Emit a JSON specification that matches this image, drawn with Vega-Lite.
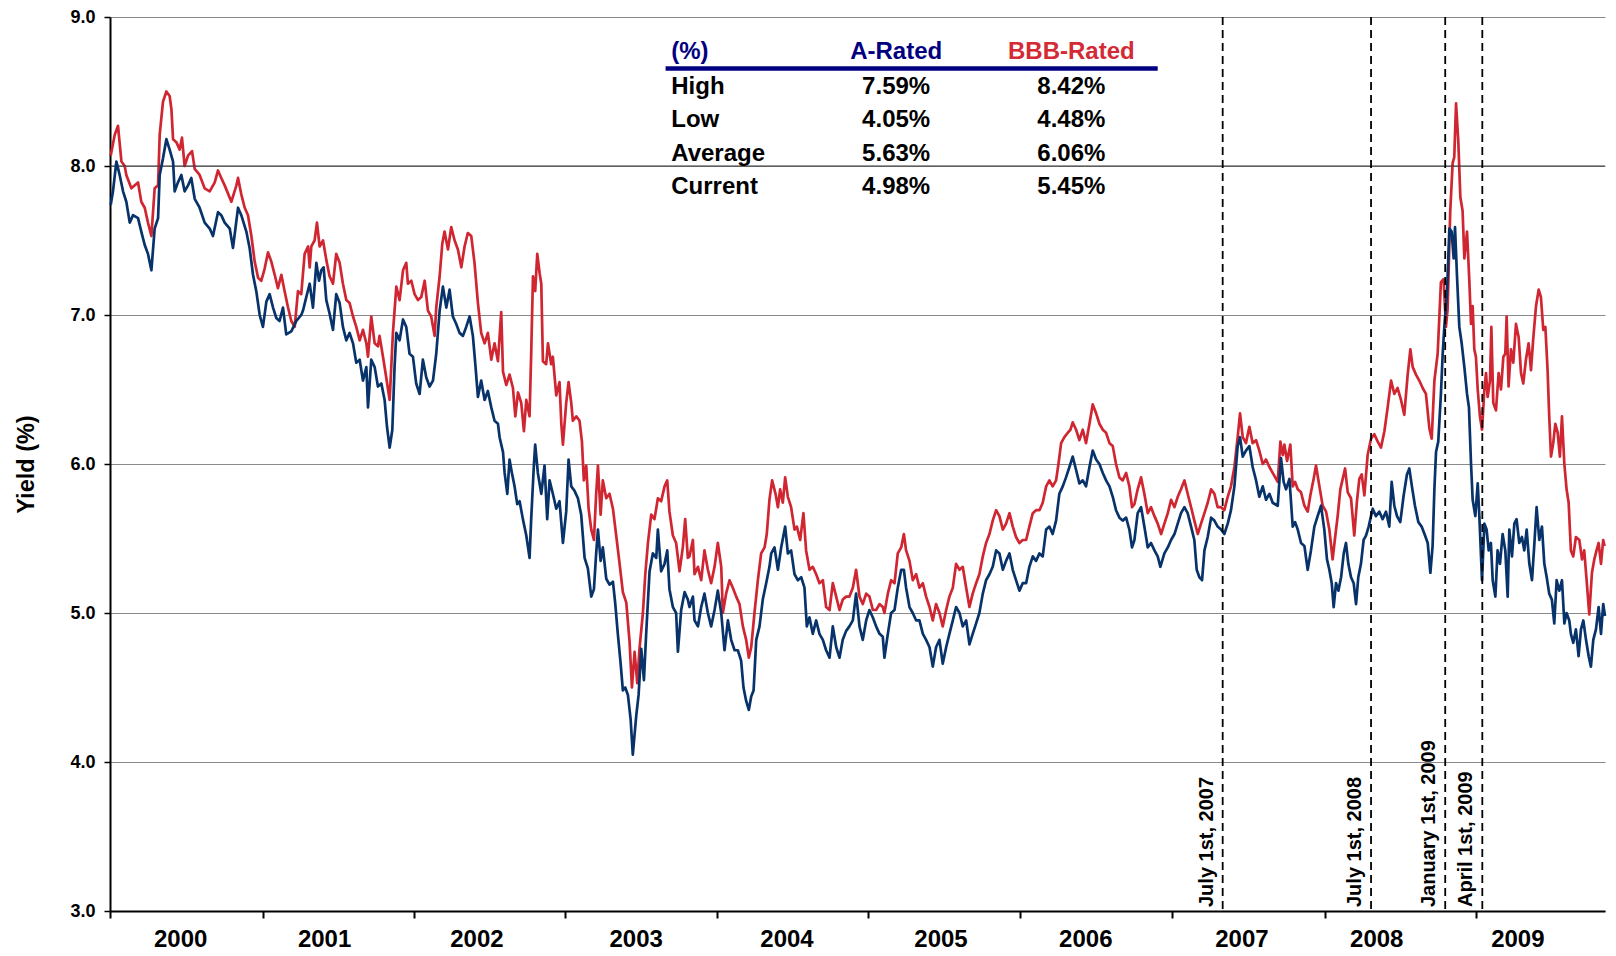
{
  "$schema": "https://vega.github.io/schema/vega-lite/v6.json",
  "width": 1495,
  "height": 894,
  "autosize": {"type": "none"},
  "padding": {"left": 110, "top": 17, "right": 11, "bottom": 45},
  "background": "white",
  "config": {"view": {"stroke": null}, "font": "Liberation Sans"},
  "datasets": {
    "bbb": [
{"year":2000.005,"yield":8.07},{"year":2000.032,"yield":8.21},{"year":2000.054,"yield":8.27},{"year":2000.077,"yield":8.03},{"year":2000.099,"yield":8.00},{"year":2000.110,"yield":7.94},{"year":2000.144,"yield":7.85},{"year":2000.189,"yield":7.89},{"year":2000.211,"yield":7.76},{"year":2000.234,"yield":7.72},{"year":2000.256,"yield":7.62},{"year":2000.279,"yield":7.53},{"year":2000.301,"yield":7.85},{"year":2000.324,"yield":7.87},{"year":2000.335,"yield":8.21},{"year":2000.357,"yield":8.43},{"year":2000.380,"yield":8.50},{"year":2000.402,"yield":8.47},{"year":2000.414,"yield":8.38},{"year":2000.425,"yield":8.18},{"year":2000.447,"yield":8.16},{"year":2000.470,"yield":8.11},{"year":2000.485,"yield":8.19},{"year":2000.503,"yield":8.00},{"year":2000.526,"yield":8.07},{"year":2000.553,"yield":8.10},{"year":2000.571,"yield":7.98},{"year":2000.604,"yield":7.94},{"year":2000.638,"yield":7.85},{"year":2000.672,"yield":7.83},{"year":2000.706,"yield":7.89},{"year":2000.728,"yield":7.97},{"year":2000.750,"yield":7.92},{"year":2000.773,"yield":7.87},{"year":2000.818,"yield":7.76},{"year":2000.852,"yield":7.87},{"year":2000.863,"yield":7.92},{"year":2000.885,"yield":7.81},{"year":2000.908,"yield":7.72},{"year":2000.930,"yield":7.67},{"year":2000.953,"yield":7.53},{"year":2000.975,"yield":7.36},{"year":2000.998,"yield":7.25},{"year":2001.020,"yield":7.23},{"year":2001.042,"yield":7.31},{"year":2001.065,"yield":7.42},{"year":2001.087,"yield":7.36},{"year":2001.110,"yield":7.27},{"year":2001.132,"yield":7.18},{"year":2001.155,"yield":7.27},{"year":2001.177,"yield":7.16},{"year":2001.200,"yield":7.05},{"year":2001.222,"yield":6.96},{"year":2001.245,"yield":6.92},{"year":2001.267,"yield":7.16},{"year":2001.289,"yield":7.14},
{"year":2001.312,"yield":7.41},{"year":2001.335,"yield":7.46},{"year":2001.346,"yield":7.32},{"year":2001.357,"yield":7.46},{"year":2001.379,"yield":7.50},{"year":2001.395,"yield":7.62},{"year":2001.413,"yield":7.46},{"year":2001.436,"yield":7.50},{"year":2001.458,"yield":7.37},{"year":2001.480,"yield":7.26},{"year":2001.503,"yield":7.21},{"year":2001.525,"yield":7.41},{"year":2001.548,"yield":7.35},{"year":2001.570,"yield":7.21},{"year":2001.593,"yield":7.10},{"year":2001.615,"yield":7.08},{"year":2001.638,"yield":6.99},{"year":2001.660,"yield":6.92},{"year":2001.683,"yield":6.83},{"year":2001.705,"yield":6.90},{"year":2001.728,"yield":6.81},{"year":2001.739,"yield":6.72},{"year":2001.761,"yield":6.99},{"year":2001.784,"yield":6.81},{"year":2001.806,"yield":6.79},{"year":2001.817,"yield":6.86},{"year":2001.840,"yield":6.72},{"year":2001.862,"yield":6.58},{"year":2001.885,"yield":6.43},{"year":2001.907,"yield":6.88},{"year":2001.930,"yield":7.19},{"year":2001.952,"yield":7.10},{"year":2001.975,"yield":7.30},{"year":2001.997,"yield":7.35},{"year":2002.008,"yield":7.21},{"year":2002.031,"yield":7.23},{"year":2002.053,"yield":7.14},{"year":2002.076,"yield":7.10},{"year":2002.098,"yield":7.12},{"year":2002.121,"yield":7.23},{"year":2002.143,"yield":7.03},{"year":2002.165,"yield":6.99},{"year":2002.188,"yield":6.86},{"year":2002.199,"yield":7.05},{"year":2002.222,"yield":7.26},{"year":2002.240,"yield":7.48},{"year":2002.255,"yield":7.56},{"year":2002.278,"yield":7.44},{"year":2002.300,"yield":7.59},{"year":2002.323,"yield":7.50},{"year":2002.345,"yield":7.44},{"year":2002.368,"yield":7.32},{"year":2002.390,"yield":7.46},{"year":2002.412,"yield":7.55},{"year":2002.435,"yield":7.53},{"year":2002.457,"yield":7.35},{"year":2002.480,"yield":7.08},{"year":2002.502,"yield":6.88},{"year":2002.525,"yield":6.81},{"year":2002.547,"yield":6.88},{"year":2002.570,"yield":6.70},{"year":2002.592,"yield":6.81},
{"year":2002.615,"yield":6.69},{"year":2002.637,"yield":7.02},{"year":2002.649,"yield":6.62},{"year":2002.671,"yield":6.53},{"year":2002.693,"yield":6.60},{"year":2002.716,"yield":6.51},{"year":2002.732,"yield":6.32},{"year":2002.750,"yield":6.48},{"year":2002.772,"yield":6.41},{"year":2002.790,"yield":6.22},{"year":2002.806,"yield":6.43},{"year":2002.828,"yield":6.32},{"year":2002.839,"yield":6.74},{"year":2002.851,"yield":7.26},{"year":2002.866,"yield":7.16},{"year":2002.880,"yield":7.41},{"year":2002.896,"yield":7.28},{"year":2002.907,"yield":7.21},{"year":2002.918,"yield":6.69},{"year":2002.940,"yield":6.67},{"year":2002.952,"yield":6.81},{"year":2002.974,"yield":6.67},{"year":2002.985,"yield":6.72},{"year":2003.008,"yield":6.46},{"year":2003.030,"yield":6.55},{"year":2003.042,"yield":6.27},{"year":2003.053,"yield":6.13},{"year":2003.075,"yield":6.41},{"year":2003.091,"yield":6.55},{"year":2003.109,"yield":6.41},{"year":2003.120,"yield":6.29},{"year":2003.143,"yield":6.32},{"year":2003.165,"yield":6.29},{"year":2003.181,"yield":6.15},{"year":2003.194,"yield":5.89},{"year":2003.210,"yield":5.99},{"year":2003.226,"yield":5.70},{"year":2003.244,"yield":5.56},{"year":2003.262,"yield":5.49},{"year":2003.277,"yield":5.80},{"year":2003.289,"yield":5.99},{"year":2003.307,"yield":5.66},{"year":2003.322,"yield":5.89},{"year":2003.345,"yield":5.77},{"year":2003.367,"yield":5.80},{"year":2003.390,"yield":5.70},{"year":2003.412,"yield":5.52},{"year":2003.435,"yield":5.33},{"year":2003.457,"yield":5.14},{"year":2003.480,"yield":5.07},{"year":2003.502,"yield":4.81},{"year":2003.518,"yield":4.50},{"year":2003.536,"yield":4.74},{"year":2003.554,"yield":4.53},{"year":2003.569,"yield":4.76},{"year":2003.592,"yield":5.00},{"year":2003.608,"yield":5.26},{"year":2003.626,"yield":5.47},{"year":2003.648,"yield":5.66},{"year":2003.670,"yield":5.63},{"year":2003.693,"yield":5.77},{"year":2003.715,"yield":5.75},{"year":2003.738,"yield":5.85},{"year":2003.756,"yield":5.89},{"year":2003.771,"yield":5.68},{"year":2003.794,"yield":5.52},{"year":2003.816,"yield":5.47},{"year":2003.839,"yield":5.28},{"year":2003.861,"yield":5.44},{"year":2003.877,"yield":5.63},{"year":2003.895,"yield":5.37},
{"year":2003.906,"yield":5.38},{"year":2003.929,"yield":5.49},{"year":2003.940,"yield":5.26},{"year":2003.963,"yield":5.31},{"year":2003.985,"yield":5.22},{"year":2004.007,"yield":5.42},{"year":2004.030,"yield":5.29},{"year":2004.052,"yield":5.20},{"year":2004.075,"yield":5.31},{"year":2004.097,"yield":5.47},{"year":2004.120,"yield":5.31},{"year":2004.131,"yield":5.00},{"year":2004.153,"yield":5.13},{"year":2004.176,"yield":5.22},{"year":2004.198,"yield":5.17},{"year":2004.221,"yield":5.11},{"year":2004.243,"yield":5.06},{"year":2004.266,"yield":4.91},{"year":2004.288,"yield":4.82},{"year":2004.306,"yield":4.70},{"year":2004.322,"yield":4.77},{"year":2004.344,"yield":5.00},{"year":2004.367,"yield":5.22},{"year":2004.389,"yield":5.40},{"year":2004.412,"yield":5.44},{"year":2004.427,"yield":5.53},{"year":2004.445,"yield":5.76},{"year":2004.463,"yield":5.89},{"year":2004.486,"yield":5.80},{"year":2004.502,"yield":5.71},{"year":2004.517,"yield":5.83},{"year":2004.535,"yield":5.74},{"year":2004.551,"yield":5.91},{"year":2004.569,"yield":5.78},{"year":2004.591,"yield":5.71},{"year":2004.614,"yield":5.56},{"year":2004.630,"yield":5.58},{"year":2004.652,"yield":5.49},{"year":2004.674,"yield":5.67},{"year":2004.692,"yield":5.42},{"year":2004.715,"yield":5.29},{"year":2004.737,"yield":5.31},{"year":2004.760,"yield":5.26},{"year":2004.782,"yield":5.20},{"year":2004.805,"yield":5.22},{"year":2004.827,"yield":5.04},{"year":2004.850,"yield":5.02},{"year":2004.872,"yield":5.20},{"year":2004.895,"yield":5.11},{"year":2004.917,"yield":5.02},{"year":2004.939,"yield":5.09},{"year":2004.962,"yield":5.11},{"year":2004.984,"yield":5.11},{"year":2005.007,"yield":5.17},{"year":2005.029,"yield":5.29},{"year":2005.052,"yield":5.11},{"year":2005.074,"yield":5.06},{"year":2005.097,"yield":5.13},{"year":2005.119,"yield":5.11},{"year":2005.142,"yield":5.02},{"year":2005.164,"yield":5.02},{"year":2005.187,"yield":5.06},{"year":2005.209,"yield":5.04},
{"year":2005.220,"yield":5.00},{"year":2005.243,"yield":5.13},{"year":2005.265,"yield":5.22},{"year":2005.288,"yield":5.20},{"year":2005.310,"yield":5.40},{"year":2005.333,"yield":5.44},{"year":2005.351,"yield":5.53},{"year":2005.366,"yield":5.42},{"year":2005.389,"yield":5.35},{"year":2005.411,"yield":5.22},{"year":2005.434,"yield":5.26},{"year":2005.456,"yield":5.17},{"year":2005.479,"yield":5.20},{"year":2005.501,"yield":5.11},{"year":2005.524,"yield":5.04},{"year":2005.546,"yield":4.95},{"year":2005.568,"yield":5.06},{"year":2005.591,"yield":5.00},{"year":2005.613,"yield":4.91},{"year":2005.636,"yield":5.02},{"year":2005.658,"yield":5.11},{"year":2005.681,"yield":5.17},{"year":2005.703,"yield":5.33},{"year":2005.726,"yield":5.29},{"year":2005.748,"yield":5.31},{"year":2005.771,"yield":5.17},{"year":2005.793,"yield":5.04},{"year":2005.815,"yield":5.13},{"year":2005.838,"yield":5.20},{"year":2005.860,"yield":5.26},{"year":2005.883,"yield":5.38},{"year":2005.905,"yield":5.47},{"year":2005.928,"yield":5.53},{"year":2005.950,"yield":5.62},{"year":2005.973,"yield":5.69},{"year":2005.995,"yield":5.65},{"year":2006.018,"yield":5.56},{"year":2006.040,"yield":5.60},{"year":2006.063,"yield":5.67},{"year":2006.085,"yield":5.58},{"year":2006.107,"yield":5.51},{"year":2006.130,"yield":5.47},{"year":2006.152,"yield":5.49},{"year":2006.175,"yield":5.49},{"year":2006.197,"yield":5.58},{"year":2006.220,"yield":5.67},{"year":2006.242,"yield":5.69},{"year":2006.265,"yield":5.69},{"year":2006.287,"yield":5.74},{"year":2006.310,"yield":5.85},{"year":2006.332,"yield":5.89},{"year":2006.354,"yield":5.85},{"year":2006.377,"yield":5.89},{"year":2006.393,"yield":6.00},{"year":2006.411,"yield":6.14},{"year":2006.433,"yield":6.18},{"year":2006.456,"yield":6.21},{"year":2006.474,"yield":6.23},{"year":2006.489,"yield":6.28},{"year":2006.512,"yield":6.23},{"year":2006.534,"yield":6.16},
{"year":2006.557,"yield":6.23},{"year":2006.579,"yield":6.14},{"year":2006.602,"yield":6.27},{"year":2006.624,"yield":6.40},{"year":2006.647,"yield":6.34},{"year":2006.669,"yield":6.27},{"year":2006.692,"yield":6.23},{"year":2006.714,"yield":6.21},{"year":2006.737,"yield":6.14},{"year":2006.759,"yield":6.12},{"year":2006.781,"yield":6.00},{"year":2006.804,"yield":5.91},{"year":2006.826,"yield":5.89},{"year":2006.849,"yield":5.94},{"year":2006.871,"yield":5.85},{"year":2006.889,"yield":5.71},{"year":2006.905,"yield":5.73},{"year":2006.927,"yield":5.83},{"year":2006.950,"yield":5.91},{"year":2006.972,"yield":5.80},{"year":2006.995,"yield":5.67},{"year":2007.017,"yield":5.71},{"year":2007.040,"yield":5.65},{"year":2007.062,"yield":5.60},{"year":2007.085,"yield":5.53},{"year":2007.107,"yield":5.60},{"year":2007.130,"yield":5.67},{"year":2007.152,"yield":5.76},{"year":2007.175,"yield":5.71},{"year":2007.197,"yield":5.78},{"year":2007.219,"yield":5.83},{"year":2007.242,"yield":5.89},{"year":2007.264,"yield":5.80},{"year":2007.287,"yield":5.71},{"year":2007.309,"yield":5.62},{"year":2007.332,"yield":5.53},{"year":2007.354,"yield":5.60},{"year":2007.377,"yield":5.67},{"year":2007.399,"yield":5.74},{"year":2007.422,"yield":5.83},{"year":2007.444,"yield":5.80},{"year":2007.466,"yield":5.71},{"year":2007.489,"yield":5.71},{"year":2007.511,"yield":5.69},{"year":2007.534,"yield":5.78},{"year":2007.556,"yield":5.85},{"year":2007.579,"yield":5.98},{"year":2007.601,"yield":6.18},{"year":2007.617,"yield":6.34},{"year":2007.635,"yield":6.18},{"year":2007.657,"yield":6.14},{"year":2007.680,"yield":6.25},{"year":2007.702,"yield":6.14},{"year":2007.725,"yield":6.16},{"year":2007.747,"yield":6.09},{"year":2007.770,"yield":6.00},{"year":2007.792,"yield":6.03},{"year":2007.815,"yield":5.98},{"year":2007.837,"yield":5.94},
{"year":2007.871,"yield":5.88},{"year":2007.889,"yield":6.15},{"year":2007.905,"yield":6.06},{"year":2007.916,"yield":6.13},{"year":2007.934,"yield":6.02},{"year":2007.956,"yield":6.13},{"year":2007.972,"yield":5.85},{"year":2007.988,"yield":5.88},{"year":2008.006,"yield":5.83},{"year":2008.028,"yield":5.81},{"year":2008.051,"yield":5.72},{"year":2008.073,"yield":5.68},{"year":2008.091,"yield":5.79},{"year":2008.113,"yield":5.90},{"year":2008.129,"yield":5.99},{"year":2008.152,"yield":5.85},{"year":2008.174,"yield":5.72},{"year":2008.197,"yield":5.68},{"year":2008.219,"yield":5.56},{"year":2008.241,"yield":5.36},{"year":2008.257,"yield":5.50},{"year":2008.275,"yield":5.65},{"year":2008.293,"yield":5.83},{"year":2008.309,"yield":5.90},{"year":2008.325,"yield":5.97},{"year":2008.343,"yield":5.81},{"year":2008.365,"yield":5.77},{"year":2008.387,"yield":5.52},{"year":2008.405,"yield":5.75},{"year":2008.421,"yield":5.90},{"year":2008.437,"yield":5.93},{"year":2008.455,"yield":5.79},{"year":2008.477,"yield":6.06},{"year":2008.500,"yield":6.17},{"year":2008.522,"yield":6.20},{"year":2008.545,"yield":6.15},{"year":2008.567,"yield":6.11},{"year":2008.590,"yield":6.22},{"year":2008.612,"yield":6.38},{"year":2008.635,"yield":6.56},{"year":2008.657,"yield":6.47},{"year":2008.679,"yield":6.51},{"year":2008.702,"yield":6.43},{"year":2008.724,"yield":6.33},{"year":2008.747,"yield":6.60},{"year":2008.765,"yield":6.77},{"year":2008.781,"yield":6.65},{"year":2008.803,"yield":6.60},{"year":2008.825,"yield":6.56},{"year":2008.848,"yield":6.51},{"year":2008.870,"yield":6.47},{"year":2008.893,"yield":6.24},{"year":2008.909,"yield":6.17},{"year":2008.927,"yield":6.56},{"year":2008.949,"yield":6.74},{"year":2008.971,"yield":7.22},{"year":2008.989,"yield":7.24},{"year":2009.005,"yield":6.92},{"year":2009.016,"yield":7.04},{"year":2009.034,"yield":7.70},{"year":2009.050,"yield":8.02},{"year":2009.061,"yield":8.06},{"year":2009.073,"yield":8.42},{"year":2009.088,"yield":8.17},{"year":2009.102,"yield":7.79},{"year":2009.117,"yield":7.70},{"year":2009.129,"yield":7.38},{"year":2009.147,"yield":7.56},{"year":2009.162,"yield":7.24},
{"year":2009.174,"yield":6.94},{"year":2009.185,"yield":7.06},{"year":2009.196,"yield":6.77},{"year":2009.207,"yield":6.72},{"year":2009.219,"yield":6.50},{"year":2009.234,"yield":6.32},{"year":2009.248,"yield":6.23},{"year":2009.264,"yield":6.50},{"year":2009.275,"yield":6.61},{"year":2009.286,"yield":6.45},{"year":2009.302,"yield":6.56},{"year":2009.311,"yield":6.92},{"year":2009.324,"yield":6.41},{"year":2009.342,"yield":6.36},{"year":2009.360,"yield":6.61},{"year":2009.376,"yield":6.50},{"year":2009.392,"yield":6.72},{"year":2009.405,"yield":6.74},{"year":2009.414,"yield":6.99},{"year":2009.427,"yield":6.52},{"year":2009.443,"yield":6.77},{"year":2009.459,"yield":6.68},{"year":2009.477,"yield":6.94},{"year":2009.495,"yield":6.85},{"year":2009.511,"yield":6.61},{"year":2009.526,"yield":6.54},{"year":2009.544,"yield":6.70},{"year":2009.562,"yield":6.81},{"year":2009.578,"yield":6.63},{"year":2009.594,"yield":6.85},{"year":2009.612,"yield":7.06},{"year":2009.630,"yield":7.17},{"year":2009.645,"yield":7.12},{"year":2009.661,"yield":6.90},{"year":2009.675,"yield":6.92},{"year":2009.690,"yield":6.63},{"year":2009.701,"yield":6.32},{"year":2009.713,"yield":6.05},{"year":2009.728,"yield":6.14},{"year":2009.742,"yield":6.27},{"year":2009.758,"yield":6.21},{"year":2009.773,"yield":6.05},{"year":2009.787,"yield":6.32},{"year":2009.803,"yield":6.00},{"year":2009.818,"yield":5.83},{"year":2009.832,"yield":5.74},{"year":2009.847,"yield":5.42},{"year":2009.863,"yield":5.38},{"year":2009.881,"yield":5.51},{"year":2009.904,"yield":5.49},{"year":2009.922,"yield":5.36},{"year":2009.937,"yield":5.42},{"year":2009.953,"yield":5.22},{"year":2009.971,"yield":4.99},{"year":2009.989,"yield":5.27},{"year":2010.005,"yield":5.36},{"year":2010.020,"yield":5.42},{"year":2010.034,"yield":5.47},{"year":2010.050,"yield":5.33},{"year":2010.065,"yield":5.49},{"year":2010.074,"yield":5.45}
    ],
    "a": [
{"year":2000.005,"yield":7.74},{"year":2000.020,"yield":7.83},{"year":2000.043,"yield":8.03},{"year":2000.065,"yield":7.94},{"year":2000.088,"yield":7.83},{"year":2000.110,"yield":7.76},{"year":2000.133,"yield":7.62},{"year":2000.155,"yield":7.67},{"year":2000.189,"yield":7.65},{"year":2000.211,"yield":7.56},{"year":2000.234,"yield":7.47},{"year":2000.256,"yield":7.41},{"year":2000.279,"yield":7.30},{"year":2000.301,"yield":7.58},{"year":2000.324,"yield":7.65},{"year":2000.335,"yield":7.94},{"year":2000.357,"yield":8.05},{"year":2000.380,"yield":8.18},{"year":2000.402,"yield":8.11},{"year":2000.425,"yield":8.03},{"year":2000.436,"yield":7.83},{"year":2000.458,"yield":7.89},{"year":2000.481,"yield":7.94},{"year":2000.503,"yield":7.83},{"year":2000.526,"yield":7.87},{"year":2000.548,"yield":7.92},{"year":2000.571,"yield":7.78},{"year":2000.604,"yield":7.72},{"year":2000.638,"yield":7.62},{"year":2000.672,"yield":7.58},{"year":2000.694,"yield":7.53},{"year":2000.728,"yield":7.69},{"year":2000.750,"yield":7.67},{"year":2000.773,"yield":7.62},{"year":2000.807,"yield":7.58},{"year":2000.829,"yield":7.45},{"year":2000.863,"yield":7.72},{"year":2000.885,"yield":7.67},{"year":2000.919,"yield":7.56},{"year":2000.941,"yield":7.45},{"year":2000.964,"yield":7.27},{"year":2000.986,"yield":7.16},{"year":2001.009,"yield":7.00},{"year":2001.031,"yield":6.92},{"year":2001.054,"yield":7.09},{"year":2001.076,"yield":7.14},{"year":2001.099,"yield":7.05},{"year":2001.121,"yield":6.98},{"year":2001.143,"yield":6.96},{"year":2001.166,"yield":7.05},{"year":2001.188,"yield":6.87},{"year":2001.222,"yield":6.89},{"year":2001.256,"yield":6.96},{"year":2001.289,"yield":7.00},
{"year":2001.301,"yield":7.03},{"year":2001.323,"yield":7.12},{"year":2001.346,"yield":7.21},{"year":2001.368,"yield":7.05},{"year":2001.391,"yield":7.35},{"year":2001.409,"yield":7.23},{"year":2001.424,"yield":7.30},{"year":2001.440,"yield":7.32},{"year":2001.458,"yield":7.10},{"year":2001.480,"yield":7.01},{"year":2001.503,"yield":6.90},{"year":2001.525,"yield":7.14},{"year":2001.548,"yield":7.08},{"year":2001.570,"yield":6.92},{"year":2001.593,"yield":6.83},{"year":2001.615,"yield":6.88},{"year":2001.638,"yield":6.81},{"year":2001.660,"yield":6.68},{"year":2001.683,"yield":6.70},{"year":2001.705,"yield":6.56},{"year":2001.728,"yield":6.65},{"year":2001.739,"yield":6.38},{"year":2001.761,"yield":6.70},{"year":2001.784,"yield":6.65},{"year":2001.806,"yield":6.52},{"year":2001.829,"yield":6.54},{"year":2001.851,"yield":6.43},{"year":2001.867,"yield":6.25},{"year":2001.885,"yield":6.11},{"year":2001.903,"yield":6.23},{"year":2001.918,"yield":6.65},{"year":2001.930,"yield":6.88},{"year":2001.952,"yield":6.83},{"year":2001.975,"yield":6.97},{"year":2001.997,"yield":6.92},{"year":2002.019,"yield":6.74},{"year":2002.042,"yield":6.72},{"year":2002.064,"yield":6.54},{"year":2002.087,"yield":6.47},{"year":2002.109,"yield":6.70},{"year":2002.132,"yield":6.58},{"year":2002.154,"yield":6.52},{"year":2002.177,"yield":6.56},{"year":2002.199,"yield":6.74},{"year":2002.222,"yield":7.03},{"year":2002.244,"yield":7.19},{"year":2002.267,"yield":7.05},{"year":2002.289,"yield":7.17},{"year":2002.311,"yield":6.99},{"year":2002.334,"yield":6.94},{"year":2002.356,"yield":6.88},{"year":2002.379,"yield":6.86},{"year":2002.401,"yield":6.92},{"year":2002.424,"yield":6.99},{"year":2002.446,"yield":6.86},{"year":2002.464,"yield":6.65},{"year":2002.480,"yield":6.45},{"year":2002.502,"yield":6.56},{"year":2002.525,"yield":6.43},{"year":2002.547,"yield":6.49},{"year":2002.570,"yield":6.38},{"year":2002.592,"yield":6.29},
{"year":2002.615,"yield":6.27},{"year":2002.626,"yield":6.18},{"year":2002.649,"yield":6.08},{"year":2002.660,"yield":5.94},{"year":2002.678,"yield":5.80},{"year":2002.693,"yield":6.03},{"year":2002.709,"yield":5.94},{"year":2002.727,"yield":5.85},{"year":2002.745,"yield":5.73},{"year":2002.761,"yield":5.75},{"year":2002.783,"yield":5.63},{"year":2002.806,"yield":5.52},{"year":2002.828,"yield":5.37},{"year":2002.839,"yield":5.63},{"year":2002.857,"yield":5.99},{"year":2002.866,"yield":6.13},{"year":2002.884,"yield":5.94},{"year":2002.907,"yield":5.80},{"year":2002.929,"yield":5.99},{"year":2002.947,"yield":5.63},{"year":2002.963,"yield":5.89},{"year":2002.985,"yield":5.80},{"year":2003.008,"yield":5.70},{"year":2003.030,"yield":5.75},{"year":2003.053,"yield":5.47},{"year":2003.075,"yield":5.68},{"year":2003.091,"yield":6.03},{"year":2003.109,"yield":5.85},{"year":2003.131,"yield":5.82},{"year":2003.154,"yield":5.77},{"year":2003.176,"yield":5.66},{"year":2003.199,"yield":5.37},{"year":2003.221,"yield":5.30},{"year":2003.244,"yield":5.11},{"year":2003.262,"yield":5.16},{"year":2003.277,"yield":5.40},{"year":2003.289,"yield":5.56},{"year":2003.307,"yield":5.35},{"year":2003.322,"yield":5.44},{"year":2003.345,"yield":5.23},{"year":2003.367,"yield":5.19},{"year":2003.390,"yield":5.21},{"year":2003.405,"yield":5.07},{"year":2003.423,"yield":4.86},{"year":2003.441,"yield":4.67},{"year":2003.457,"yield":4.48},{"year":2003.473,"yield":4.50},{"year":2003.491,"yield":4.45},{"year":2003.509,"yield":4.29},{"year":2003.524,"yield":4.05},{"year":2003.547,"yield":4.31},{"year":2003.563,"yield":4.45},{"year":2003.581,"yield":4.76},{"year":2003.599,"yield":4.55},{"year":2003.614,"yield":4.86},{"year":2003.637,"yield":5.28},{"year":2003.659,"yield":5.40},{"year":2003.682,"yield":5.37},{"year":2003.693,"yield":5.56},{"year":2003.715,"yield":5.28},{"year":2003.738,"yield":5.33},{"year":2003.756,"yield":5.42},{"year":2003.771,"yield":5.16},{"year":2003.794,"yield":5.04},{"year":2003.816,"yield":5.00},{"year":2003.828,"yield":4.74},{"year":2003.850,"yield":5.02},{"year":2003.873,"yield":5.14},{"year":2003.895,"yield":5.09},
{"year":2003.906,"yield":5.04},{"year":2003.929,"yield":5.11},{"year":2003.940,"yield":4.95},{"year":2003.963,"yield":4.91},{"year":2003.985,"yield":5.04},{"year":2004.007,"yield":5.13},{"year":2004.030,"yield":5.00},{"year":2004.052,"yield":4.91},{"year":2004.075,"yield":5.02},{"year":2004.097,"yield":5.15},{"year":2004.120,"yield":5.00},{"year":2004.142,"yield":4.75},{"year":2004.165,"yield":4.95},{"year":2004.187,"yield":4.82},{"year":2004.210,"yield":4.75},{"year":2004.232,"yield":4.75},{"year":2004.254,"yield":4.68},{"year":2004.270,"yield":4.50},{"year":2004.288,"yield":4.41},{"year":2004.306,"yield":4.35},{"year":2004.322,"yield":4.44},{"year":2004.338,"yield":4.48},{"year":2004.356,"yield":4.82},{"year":2004.378,"yield":4.91},{"year":2004.400,"yield":5.09},{"year":2004.423,"yield":5.20},{"year":2004.445,"yield":5.31},{"year":2004.457,"yield":5.40},{"year":2004.479,"yield":5.44},{"year":2004.502,"yield":5.29},{"year":2004.524,"yield":5.44},{"year":2004.551,"yield":5.58},{"year":2004.569,"yield":5.40},{"year":2004.591,"yield":5.42},{"year":2004.614,"yield":5.26},{"year":2004.636,"yield":5.22},{"year":2004.659,"yield":5.24},{"year":2004.681,"yield":5.17},{"year":2004.697,"yield":4.91},{"year":2004.715,"yield":4.97},{"year":2004.737,"yield":4.86},{"year":2004.760,"yield":4.95},{"year":2004.782,"yield":4.86},{"year":2004.805,"yield":4.82},{"year":2004.827,"yield":4.75},{"year":2004.850,"yield":4.70},{"year":2004.872,"yield":4.91},{"year":2004.895,"yield":4.77},{"year":2004.917,"yield":4.70},{"year":2004.939,"yield":4.82},{"year":2004.962,"yield":4.88},{"year":2004.984,"yield":4.91},{"year":2005.007,"yield":4.95},{"year":2005.029,"yield":5.13},{"year":2005.052,"yield":4.91},{"year":2005.074,"yield":4.82},{"year":2005.097,"yield":4.95},{"year":2005.119,"yield":5.02},{"year":2005.142,"yield":4.97},{"year":2005.164,"yield":4.91},{"year":2005.187,"yield":4.86},{"year":2005.209,"yield":4.84},
{"year":2005.220,"yield":4.70},{"year":2005.243,"yield":4.86},{"year":2005.265,"yield":5.00},{"year":2005.288,"yield":5.02},{"year":2005.310,"yield":5.17},{"year":2005.333,"yield":5.29},{"year":2005.351,"yield":5.29},{"year":2005.366,"yield":5.17},{"year":2005.389,"yield":5.04},{"year":2005.411,"yield":5.00},{"year":2005.434,"yield":4.95},{"year":2005.456,"yield":4.95},{"year":2005.479,"yield":4.86},{"year":2005.501,"yield":4.82},{"year":2005.524,"yield":4.77},{"year":2005.546,"yield":4.64},{"year":2005.568,"yield":4.77},{"year":2005.591,"yield":4.82},{"year":2005.613,"yield":4.66},{"year":2005.636,"yield":4.77},{"year":2005.658,"yield":4.86},{"year":2005.681,"yield":4.95},{"year":2005.703,"yield":5.04},{"year":2005.726,"yield":5.00},{"year":2005.748,"yield":4.91},{"year":2005.771,"yield":4.95},{"year":2005.793,"yield":4.79},{"year":2005.815,"yield":4.86},{"year":2005.838,"yield":4.93},{"year":2005.860,"yield":5.00},{"year":2005.883,"yield":5.13},{"year":2005.905,"yield":5.22},{"year":2005.928,"yield":5.26},{"year":2005.950,"yield":5.31},{"year":2005.973,"yield":5.42},{"year":2005.995,"yield":5.40},{"year":2006.018,"yield":5.29},{"year":2006.040,"yield":5.35},{"year":2006.063,"yield":5.40},{"year":2006.085,"yield":5.29},{"year":2006.107,"yield":5.22},{"year":2006.130,"yield":5.15},{"year":2006.152,"yield":5.20},{"year":2006.175,"yield":5.20},{"year":2006.197,"yield":5.31},{"year":2006.220,"yield":5.38},{"year":2006.242,"yield":5.35},{"year":2006.265,"yield":5.40},{"year":2006.287,"yield":5.38},{"year":2006.310,"yield":5.56},{"year":2006.332,"yield":5.58},{"year":2006.354,"yield":5.53},{"year":2006.377,"yield":5.62},{"year":2006.399,"yield":5.80},{"year":2006.422,"yield":5.85},{"year":2006.444,"yield":5.91},{"year":2006.467,"yield":5.98},{"year":2006.489,"yield":6.05},{"year":2006.512,"yield":5.96},{"year":2006.534,"yield":5.87},
{"year":2006.557,"yield":5.89},{"year":2006.579,"yield":5.85},{"year":2006.602,"yield":5.98},{"year":2006.624,"yield":6.09},{"year":2006.647,"yield":6.03},{"year":2006.669,"yield":6.00},{"year":2006.692,"yield":5.94},{"year":2006.714,"yield":5.89},{"year":2006.737,"yield":5.85},{"year":2006.759,"yield":5.78},{"year":2006.781,"yield":5.69},{"year":2006.804,"yield":5.64},{"year":2006.826,"yield":5.62},{"year":2006.849,"yield":5.64},{"year":2006.871,"yield":5.56},{"year":2006.889,"yield":5.44},{"year":2006.905,"yield":5.49},{"year":2006.927,"yield":5.67},{"year":2006.950,"yield":5.71},{"year":2006.972,"yield":5.58},{"year":2006.995,"yield":5.44},{"year":2007.017,"yield":5.47},{"year":2007.040,"yield":5.42},{"year":2007.062,"yield":5.38},{"year":2007.080,"yield":5.31},{"year":2007.107,"yield":5.40},{"year":2007.130,"yield":5.44},{"year":2007.152,"yield":5.49},{"year":2007.175,"yield":5.53},{"year":2007.197,"yield":5.60},{"year":2007.219,"yield":5.67},{"year":2007.242,"yield":5.71},{"year":2007.264,"yield":5.67},{"year":2007.287,"yield":5.58},{"year":2007.309,"yield":5.49},{"year":2007.325,"yield":5.29},{"year":2007.343,"yield":5.24},{"year":2007.361,"yield":5.22},{"year":2007.377,"yield":5.42},{"year":2007.399,"yield":5.51},{"year":2007.422,"yield":5.64},{"year":2007.444,"yield":5.62},{"year":2007.466,"yield":5.58},{"year":2007.489,"yield":5.56},{"year":2007.511,"yield":5.53},{"year":2007.534,"yield":5.60},{"year":2007.556,"yield":5.69},{"year":2007.579,"yield":5.85},{"year":2007.601,"yield":6.12},{"year":2007.617,"yield":6.18},{"year":2007.635,"yield":6.05},{"year":2007.657,"yield":6.09},{"year":2007.680,"yield":6.12},{"year":2007.702,"yield":5.98},{"year":2007.725,"yield":5.89},{"year":2007.747,"yield":5.78},{"year":2007.770,"yield":5.85},{"year":2007.792,"yield":5.76},{"year":2007.815,"yield":5.80},{"year":2007.837,"yield":5.74},
{"year":2007.871,"yield":5.72},{"year":2007.893,"yield":6.04},{"year":2007.911,"yield":5.88},{"year":2007.927,"yield":5.83},{"year":2007.950,"yield":5.90},{"year":2007.972,"yield":5.58},{"year":2007.988,"yield":5.61},{"year":2008.006,"yield":5.56},{"year":2008.028,"yield":5.47},{"year":2008.051,"yield":5.45},{"year":2008.073,"yield":5.29},{"year":2008.095,"yield":5.42},{"year":2008.118,"yield":5.58},{"year":2008.140,"yield":5.65},{"year":2008.163,"yield":5.72},{"year":2008.185,"yield":5.56},{"year":2008.203,"yield":5.36},{"year":2008.219,"yield":5.29},{"year":2008.235,"yield":5.20},{"year":2008.248,"yield":5.04},{"year":2008.264,"yield":5.20},{"year":2008.280,"yield":5.15},{"year":2008.298,"yield":5.24},{"year":2008.316,"yield":5.40},{"year":2008.331,"yield":5.47},{"year":2008.347,"yield":5.33},{"year":2008.365,"yield":5.24},{"year":2008.383,"yield":5.20},{"year":2008.399,"yield":5.06},{"year":2008.414,"yield":5.24},{"year":2008.432,"yield":5.33},{"year":2008.450,"yield":5.49},{"year":2008.466,"yield":5.52},{"year":2008.484,"yield":5.58},{"year":2008.511,"yield":5.70},{"year":2008.533,"yield":5.65},{"year":2008.556,"yield":5.68},{"year":2008.578,"yield":5.63},{"year":2008.601,"yield":5.68},{"year":2008.623,"yield":5.58},{"year":2008.639,"yield":5.88},{"year":2008.657,"yield":5.72},{"year":2008.675,"yield":5.65},{"year":2008.697,"yield":5.61},{"year":2008.720,"yield":5.79},{"year":2008.742,"yield":5.93},{"year":2008.758,"yield":5.97},{"year":2008.774,"yield":5.86},{"year":2008.796,"yield":5.72},{"year":2008.819,"yield":5.61},{"year":2008.841,"yield":5.58},{"year":2008.864,"yield":5.52},{"year":2008.882,"yield":5.47},{"year":2008.900,"yield":5.27},{"year":2008.915,"yield":5.45},{"year":2008.927,"yield":5.83},{"year":2008.938,"yield":6.08},{"year":2008.953,"yield":6.15},{"year":2008.971,"yield":6.47},{"year":2008.983,"yield":6.74},{"year":2008.994,"yield":6.92},{"year":2009.012,"yield":7.15},{"year":2009.028,"yield":7.58},{"year":2009.043,"yield":7.56},{"year":2009.057,"yield":7.38},{"year":2009.066,"yield":7.59},{"year":2009.079,"yield":7.27},{"year":2009.095,"yield":6.92},{"year":2009.111,"yield":6.81},{"year":2009.129,"yield":6.65},{"year":2009.147,"yield":6.47},
{"year":2009.160,"yield":6.38},{"year":2009.174,"yield":6.00},{"year":2009.185,"yield":5.76},{"year":2009.203,"yield":5.65},{"year":2009.219,"yield":5.87},{"year":2009.230,"yield":5.65},{"year":2009.248,"yield":5.22},{"year":2009.264,"yield":5.60},{"year":2009.279,"yield":5.56},{"year":2009.293,"yield":5.42},{"year":2009.308,"yield":5.47},{"year":2009.320,"yield":5.22},{"year":2009.338,"yield":5.11},{"year":2009.353,"yield":5.42},{"year":2009.369,"yield":5.33},{"year":2009.387,"yield":5.53},{"year":2009.405,"yield":5.42},{"year":2009.421,"yield":5.11},{"year":2009.432,"yield":5.56},{"year":2009.450,"yield":5.38},{"year":2009.466,"yield":5.60},{"year":2009.481,"yield":5.63},{"year":2009.499,"yield":5.47},{"year":2009.517,"yield":5.51},{"year":2009.533,"yield":5.42},{"year":2009.549,"yield":5.56},{"year":2009.567,"yield":5.33},{"year":2009.585,"yield":5.22},{"year":2009.600,"yield":5.45},{"year":2009.616,"yield":5.71},{"year":2009.634,"yield":5.49},{"year":2009.652,"yield":5.58},{"year":2009.668,"yield":5.33},{"year":2009.684,"yield":5.24},{"year":2009.701,"yield":5.13},{"year":2009.719,"yield":5.09},{"year":2009.735,"yield":4.93},{"year":2009.751,"yield":5.22},{"year":2009.769,"yield":5.15},{"year":2009.787,"yield":5.22},{"year":2009.803,"yield":4.93},{"year":2009.818,"yield":5.00},{"year":2009.836,"yield":4.95},{"year":2009.847,"yield":4.86},{"year":2009.863,"yield":4.80},{"year":2009.881,"yield":4.89},{"year":2009.899,"yield":4.71},{"year":2009.915,"yield":4.89},{"year":2009.931,"yield":4.95},{"year":2009.949,"yield":4.82},{"year":2009.967,"yield":4.71},{"year":2009.982,"yield":4.64},{"year":2009.998,"yield":4.82},{"year":2010.016,"yield":4.89},{"year":2010.034,"yield":5.04},{"year":2010.050,"yield":4.86},{"year":2010.065,"yield":5.06},{"year":2010.077,"yield":4.98}
    ],
    "events": [
      {"label": "July 1st, 2007", "year": 2007.5},
      {"label": "July 1st, 2008", "year": 2008.5},
      {"label": "January 1st, 2009", "year": 2009.0},
      {"label": "April 1st, 2009", "year": 2009.25}
    ],
    "stats": [
      {"stat": "High", "A": "7.59%", "BBB": "8.42%", "level": 8.53},
      {"stat": "Low", "A": "4.05%", "BBB": "4.48%", "level": 8.307},
      {"stat": "Average", "A": "5.63%", "BBB": "6.06%", "level": 8.083},
      {"stat": "Current", "A": "4.98%", "BBB": "5.45%", "level": 7.859}
    ]
  },
  "layer": [
    {
      "data": {"name": "bbb"},
      "mark": {"type": "line", "color": "#CF2632", "strokeWidth": 2.7, "strokeJoin": "round"},
      "encoding": {
        "x": {
          "field": "year", "type": "quantitative",
          "scale": {"domain": [2000, 2010.077], "nice": false, "zero": false},
          "axis": {
            "orient": "bottom", "title": null, "grid": false, "labels": false,
            "values": [2000, 2001.028, 2002.049, 2003.069, 2004.09, 2005.111, 2006.132, 2007.16, 2008.187, 2009.208],
            "ticks": true, "tickSize": 7, "tickWidth": 2, "tickColor": "black",
            "domain": true, "domainColor": "black", "domainWidth": 2
          }
        },
        "y": {
          "field": "yield", "type": "quantitative",
          "scale": {"domain": [3, 9], "nice": false, "zero": false},
          "axis": {
            "orient": "left",
            "values": [3, 4, 5, 6, 7, 8, 9], "format": ".1f", "title": "Yield (%)",
            "grid": true, "gridColor": "#8a8a8a", "gridWidth": 1,
            "domain": true, "domainColor": "black", "domainWidth": 2, "ticks": true, "tickColor": "black", "tickWidth": 1.5, "tickSize": 6,
            "labels": true, "labelFontSize": 18, "labelFontWeight": "bold", "labelColor": "black", "labelPadding": 9,
            "titleFontSize": 23.5, "titleFontWeight": "bold", "titleColor": "black", "titlePadding": 31
          }
        }
      }
    },
    {
      "data": {"values": [{}]},
      "mark": {"type": "rule", "color": "#333333", "strokeWidth": 1},
      "encoding": {"y": {"datum": 8, "axis": null}}
    },
    {
      "data": {"name": "a"},
      "mark": {"type": "line", "color": "#07336A", "strokeWidth": 2.7, "strokeJoin": "round"},
      "encoding": {
        "x": {"field": "year", "type": "quantitative", "axis": null},
        "y": {"field": "yield", "type": "quantitative", "axis": null}
      }
    },
    {
      "data": {"name": "events"},
      "mark": {"type": "rule", "strokeDash": [8, 5], "strokeWidth": 1.8, "color": "black"},
      "encoding": {
        "x": {
          "field": "year", "type": "quantitative",
          "axis": {
            "orient": "bottom", "title": null, "grid": false, "ticks": false, "domain": false,
            "values": [2000.473, 2001.443, 2002.47, 2003.543, 2004.56, 2005.598, 2006.574, 2007.626, 2008.535, 2009.486],
            "labelExpr": "floor(datum.value)", "labelFlush": false, "labelOverlap": false,
            "labelFontSize": 24, "labelFontWeight": "bold", "labelColor": "black", "labelPadding": 16
          }
        }
      }
    },
    {
      "data": {"name": "events"},
      "mark": {"type": "text", "angle": 270, "align": "left", "baseline": "bottom", "dx": 4, "dy": -6, "fontSize": 20, "fontWeight": "bold", "color": "black"},
      "encoding": {
        "x": {"field": "year", "type": "quantitative", "axis": null},
        "y": {"datum": 3, "axis": null},
        "text": {"field": "label"}
      }
    },
    {
      "data": {"values": [{}]},
      "mark": {"type": "rule", "color": "#000080", "strokeWidth": 4.5},
      "encoding": {
        "x": {"datum": 2003.745, "axis": null},
        "x2": {"datum": 2007.062},
        "y": {"datum": 8.654, "axis": null}
      }
    },
    {
      "data": {"values": [{}]},
      "mark": {"type": "text", "text": "(%)", "align": "left", "baseline": "middle", "fontSize": 24, "fontWeight": "bold", "color": "#000080"},
      "encoding": {"x": {"datum": 2003.783, "axis": null}, "y": {"datum": 8.765, "axis": null}}
    },
    {
      "data": {"values": [{}]},
      "mark": {"type": "text", "text": "A-Rated", "align": "center", "baseline": "middle", "fontSize": 24, "fontWeight": "bold", "color": "#000080"},
      "encoding": {"x": {"datum": 2005.299, "axis": null}, "y": {"datum": 8.765, "axis": null}}
    },
    {
      "data": {"values": [{}]},
      "mark": {"type": "text", "text": "BBB-Rated", "align": "center", "baseline": "middle", "fontSize": 24, "fontWeight": "bold", "color": "#D42A35"},
      "encoding": {"x": {"datum": 2006.48, "axis": null}, "y": {"datum": 8.765, "axis": null}}
    },
    {
      "data": {"name": "stats"},
      "mark": {"type": "text", "align": "left", "baseline": "middle", "fontSize": 24, "fontWeight": "bold", "color": "black"},
      "encoding": {"x": {"datum": 2003.783, "axis": null}, "y": {"field": "level", "type": "quantitative", "axis": null}, "text": {"field": "stat"}}
    },
    {
      "data": {"name": "stats"},
      "mark": {"type": "text", "align": "center", "baseline": "middle", "fontSize": 24, "fontWeight": "bold", "color": "black"},
      "encoding": {"x": {"datum": 2005.299, "axis": null}, "y": {"field": "level", "type": "quantitative", "axis": null}, "text": {"field": "A"}}
    },
    {
      "data": {"name": "stats"},
      "mark": {"type": "text", "align": "center", "baseline": "middle", "fontSize": 24, "fontWeight": "bold", "color": "black"},
      "encoding": {"x": {"datum": 2006.48, "axis": null}, "y": {"field": "level", "type": "quantitative", "axis": null}, "text": {"field": "BBB"}}
    }
  ],
  "resolve": {"axis": {"x": "independent", "y": "independent"}}
}
